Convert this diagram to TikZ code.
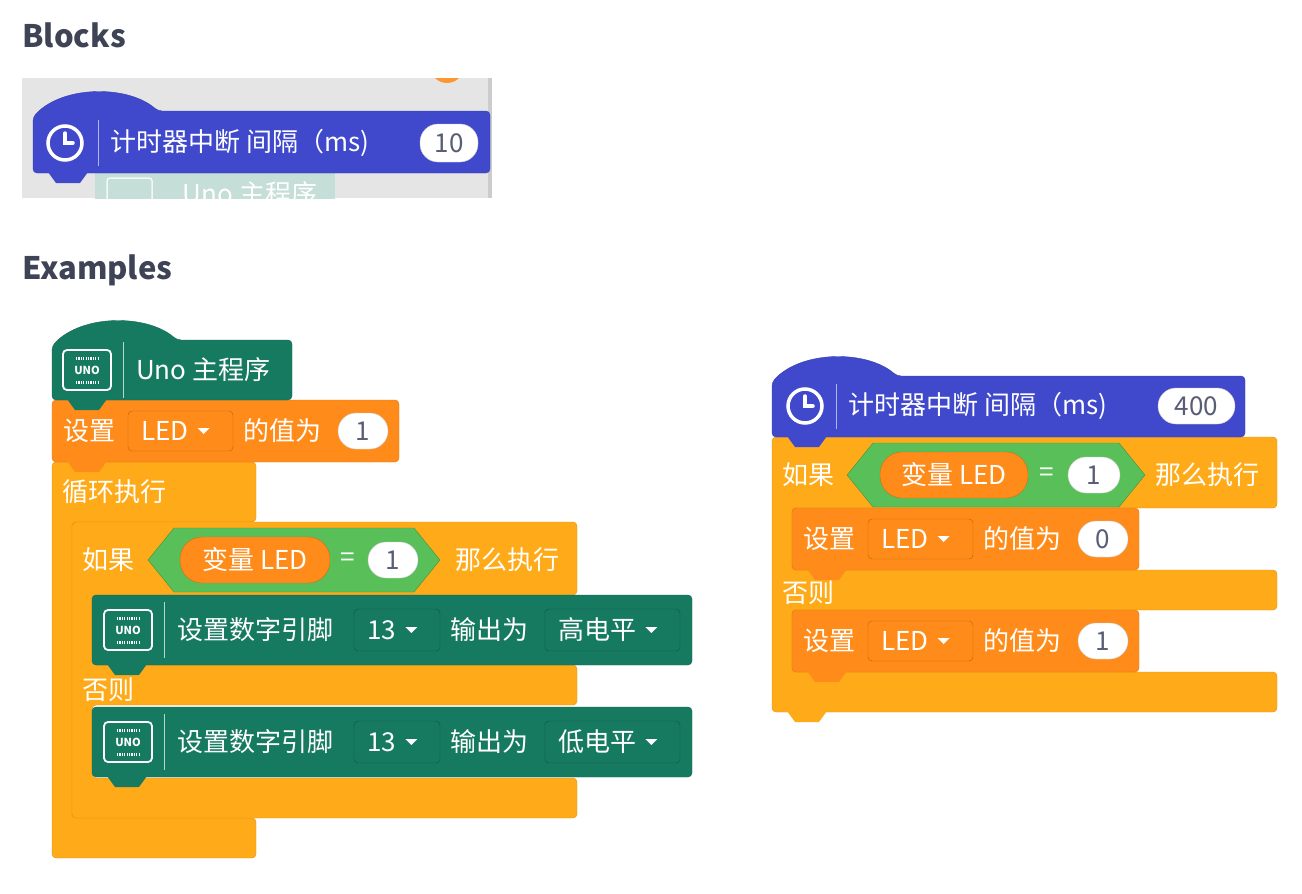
\documentclass[tikz,border=0pt]{standalone}
\usepackage{fontspec}
\setmainfont{Noto Sans CJK SC}
\definecolor{ink}{HTML}{3E4456}
\definecolor{blueblk}{HTML}{4049CC}
\definecolor{unogreen}{HTML}{167A60}
\definecolor{setorange}{HTML}{FF8C1A}
\definecolor{ctrl}{HTML}{FFAB19}
\definecolor{hexgreen}{HTML}{59C059}
\definecolor{numink}{HTML}{575E75}

% plain stack block with its bottom tab
\newcommand\blk[5]{%
  \filldraw[fill=#5,draw=#5!85!black,rounded corners=4] (#1,#2) rectangle (#3,#4);
  \fill[#5] (#1+15,#4-1) -- (#1+23,#4+10) -- (#1+47,#4+10) -- (#1+55,#4-1) -- cycle;}
% hat block
\newcommand\hatblk[5]{%
  \filldraw[fill=#5,draw=#5!85!black,rounded corners=4] (#1,#4) -- (#1,#2+6)
     .. controls (#1+30,#2-26) and (#1+95,#2-26) .. (#1+125,#2) -- (#3,#2) -- (#3,#4) -- cycle;
  \fill[#5] (#1+15,#4-1) -- (#1+23,#4+10) -- (#1+47,#4+10) -- (#1+55,#4-1) -- cycle;}
% dropdown field
\newcommand\dropdown[6]{%
  \filldraw[fill=#6,draw=#6!70!black,rounded corners=4] (#1,#2) rectangle (#3,#4);
  \node[txt,anchor=west] (dd) at (#1+13,#2/2+#4/2) {#5};
  \fill[white] ([xshift=9pt,yshift=3pt]dd.east) -- ++(12,0) -- ++(-6,6) -- cycle;}
% white number oval
\newcommand\numoval[5]{%
  \filldraw[fill=white,draw=black!20,rounded corners=18] (#1,#2) rectangle (#3,#4);
  \node[txt,text=numink] at (#1/2+#3/2,#2/2+#4/2) {#5};}
% boolean hexagon
\newcommand\hexblk[4]{%
  \filldraw[fill=hexgreen,draw=hexgreen!75!black] (#1,#2/2+#4/2) -- (#1+26,#2) -- (#3-26,#2)
     -- (#3,#2/2+#4/2) -- (#3-26,#4) -- (#1+26,#4) -- cycle;}
% clock icon
\newcommand\clock[2]{%
  \draw[white,line width=3.5] (#1,#2) circle (17);
  \draw[white,line width=3.5,line cap=round] (#1,#2-10) -- (#1,#2) -- (#1+8,#2);}
% uno icon
\newcommand\unoicon[3]{%
  \draw[white,line width=1.8,rounded corners=4] (#1,#2) rectangle (#1+48,#2+40);
  \draw[white,line width=3,dash pattern=on 1.2 off 1.2] (#1+13,#2+8) -- (#1+35,#2+8);
  \draw[white,line width=3,dash pattern=on 1.2 off 1.2] (#1+13,#2+32) -- (#1+35,#2+32);
  \node[text=white,font=\bfseries\fontsize{11}{11}\selectfont,inner sep=0] at (#1+24,#2+20) {UNO};
  \draw[white!70!#3,line width=1] (#1+60,#2-8) -- (#1+60,#2+48);}

\begin{document}
\begin{tikzpicture}[x=1pt,y=-1pt,
  txt/.style={text=white,inner sep=0,font=\fontsize{26}{30}\selectfont},
  heading/.style={text=ink,anchor=west,inner sep=0,font=\bfseries\fontsize{31}{36}\selectfont}]
\useasboundingbox (0,0) rectangle (1302,894);

%% Blocks
\node[heading] (blocks) at (22,35) {Blocks};
\begin{scope}
  \clip (22,78) rectangle (492,198);
  \fill[black!10] (22,78) rectangle (492,198);
  \fill[black!20] (488,78) rectangle (492,198);
  \fill[setorange!90] (447,66) circle (17);
  \fill[unogreen!25] (95,173) rectangle (335,205);
  \node[text=white,font=\fontsize{26}{30}\selectfont] (ghost) at (250,194) {Uno 主程序};
  \draw[white,line width=1.5,rounded corners=3,opacity=.8] (107,178) rectangle (152,205);
  \hatblk{33}{111}{490}{173}{blueblk}
\end{scope}
\clock{65}{143}
\draw[white!60!blueblk] (98,120) -- (98,166);
\node[txt,anchor=west] (timerA) at (110,143) {计时器中断 间隔（ms)};
\numoval{420}{124}{478}{162}{10}

%% Examples
\node[heading] (examples) at (22,270) {Examples};

% left program
\filldraw[fill=ctrl,draw=ctrl!85!black,rounded corners=4] (52,462) -- (256,462) -- (256,522)
   -- (72,522) -- (72,818) -- (256,818) -- (256,858) -- (52,858) -- cycle;
\filldraw[fill=ctrl,draw=ctrl!85!black,rounded corners=4] (72,522) -- (577,522) -- (577,595)
   -- (92,595) -- (92,665) -- (577,665) -- (577,705) -- (92,705) -- (92,778) -- (577,778)
   -- (577,818) -- (72,818) -- cycle;
\node[txt,anchor=west] (loop) at (62,492) {循环执行};
\node[txt,anchor=west] (ifA) at (82,560) {如果};
\hexblk{148}{528}{440}{592}
\filldraw[fill=setorange,draw=setorange!80!black,rounded corners=22] (180,537) rectangle (330,583);
\node[txt] (varA) at (255,560) {变量 LED};
\node[txt] (eqA) at (348,560) {=};
\numoval{368}{542}{418}{578}{1}
\node[txt,anchor=west] (thenA) at (455,560) {那么执行};
\node[txt,anchor=west] (elseA) at (82,690) {否则};
\blk{92}{707}{692}{777}{unogreen}
\unoicon{104}{722}{unogreen}
\node[txt,anchor=west] (pinB) at (177,742) {设置数字引脚};
\dropdown{354}{721}{440}{763}{13}{unogreen}
\node[txt,anchor=west] (outB) at (450,742) {输出为};
\dropdown{545}{721}{680}{763}{低电平}{unogreen}
\blk{92}{595}{692}{665}{unogreen}
\unoicon{104}{610}{unogreen}
\node[txt,anchor=west] (pinA) at (177,630) {设置数字引脚};
\dropdown{354}{609}{440}{651}{13}{unogreen}
\node[txt,anchor=west] (outA) at (450,630) {输出为};
\dropdown{545}{609}{680}{651}{高电平}{unogreen}
\blk{52}{400}{399}{462}{setorange}
\node[txt,anchor=west] (setA) at (63,431) {设置};
\dropdown{128}{411}{233}{451}{LED}{setorange}
\node[txt,anchor=west] (valA) at (243,431) {的值为};
\numoval{338}{413}{388}{449}{1}
\hatblk{52}{340}{292}{400}{unogreen}
\unoicon{63}{350}{unogreen}
\node[txt,anchor=west] (mainA) at (136,370) {Uno 主程序};

% right program
\filldraw[fill=ctrl,draw=ctrl!85!black,rounded corners=4] (772,437) -- (1277,437) -- (1277,508)
   -- (792,508) -- (792,570) -- (1277,570) -- (1277,610) -- (792,610) -- (792,672) -- (1277,672)
   -- (1277,712) -- (772,712) -- cycle;
\fill[ctrl] (787,711) -- (795,722) -- (819,722) -- (827,711) -- cycle;
\node[txt,anchor=west] (ifB) at (782,475) {如果};
\hexblk{847}{443}{1145}{507}
\filldraw[fill=setorange,draw=setorange!80!black,rounded corners=22] (880,452) rectangle (1028,498);
\node[txt] (varB) at (954,475) {变量 LED};
\node[txt] (eqB) at (1047,475) {=};
\numoval{1068}{457}{1120}{493}{1}
\node[txt,anchor=west] (thenB) at (1155,475) {那么执行};
\node[txt,anchor=west] (elseB) at (782,593) {否则};
\blk{792}{610}{1139}{672}{setorange}
\node[txt,anchor=west] (setC) at (803,641) {设置};
\dropdown{868}{621}{973}{661}{LED}{setorange}
\node[txt,anchor=west] (valC) at (983,641) {的值为};
\numoval{1078}{623}{1128}{659}{1}
\blk{792}{508}{1139}{570}{setorange}
\node[txt,anchor=west] (setB) at (803,539) {设置};
\dropdown{868}{519}{973}{559}{LED}{setorange}
\node[txt,anchor=west] (valB) at (983,539) {的值为};
\numoval{1078}{521}{1128}{557}{0}
\hatblk{772}{376}{1245}{437}{blueblk}
\clock{805}{406}
\draw[white!60!blueblk] (836,384) -- (836,429);
\node[txt,anchor=west] (timerB) at (848,406) {计时器中断 间隔（ms)};
\numoval{1158}{388}{1235}{424}{400}
\end{tikzpicture}
\end{document}
